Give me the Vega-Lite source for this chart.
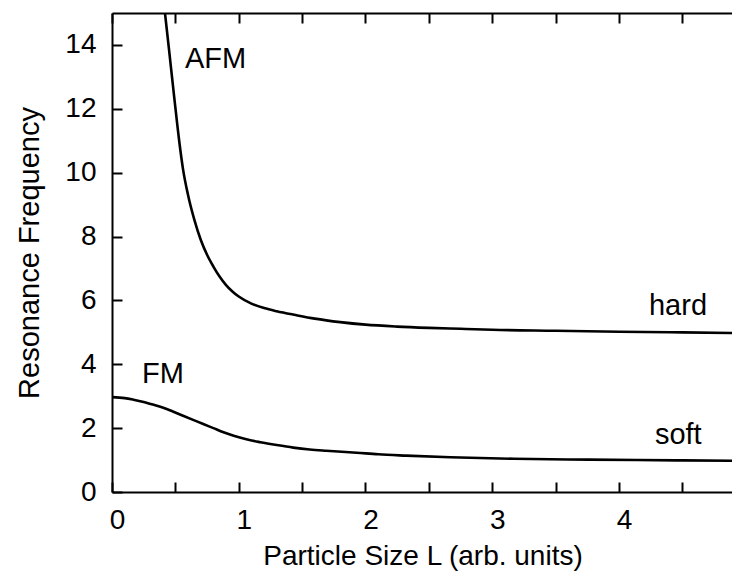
{
  "$schema": "https://vega.github.io/schema/vega-lite/v6.json",
  "autosize": {"type": "none"},
  "padding": {"left": 112, "top": 13, "right": 0, "bottom": 80},
  "width": 621,
  "height": 479,
  "background": "white",
  "config": {
    "view": {"stroke": null},
    "font": "Liberation Sans",
    "axis": {
      "grid": false,
      "domainColor": "black",
      "domainWidth": 2,
      "tickColor": "black",
      "tickWidth": 2,
      "labelColor": "black",
      "titleColor": "black",
      "labelFont": "Liberation Sans",
      "titleFont": "Liberation Sans",
      "titleFontWeight": "normal"
    }
  },
  "datasets": {
    "curves": [
      {"curve": "AFM", "L": 0.418, "f": 15.0},
      {"curve": "AFM", "L": 0.45, "f": 13.85},
      {"curve": "AFM", "L": 0.49, "f": 12.4},
      {"curve": "AFM", "L": 0.53, "f": 11.0},
      {"curve": "AFM", "L": 0.56, "f": 10.12},
      {"curve": "AFM", "L": 0.6, "f": 9.3},
      {"curve": "AFM", "L": 0.65, "f": 8.52},
      {"curve": "AFM", "L": 0.7, "f": 7.9},
      {"curve": "AFM", "L": 0.75, "f": 7.43},
      {"curve": "AFM", "L": 0.8, "f": 7.06},
      {"curve": "AFM", "L": 0.85, "f": 6.74},
      {"curve": "AFM", "L": 0.9, "f": 6.48},
      {"curve": "AFM", "L": 0.95, "f": 6.28},
      {"curve": "AFM", "L": 1.0, "f": 6.12},
      {"curve": "AFM", "L": 1.1, "f": 5.9},
      {"curve": "AFM", "L": 1.2, "f": 5.76},
      {"curve": "AFM", "L": 1.3, "f": 5.66},
      {"curve": "AFM", "L": 1.45, "f": 5.54},
      {"curve": "AFM", "L": 1.6, "f": 5.43},
      {"curve": "AFM", "L": 1.8, "f": 5.32},
      {"curve": "AFM", "L": 2.0, "f": 5.24},
      {"curve": "AFM", "L": 2.25, "f": 5.18},
      {"curve": "AFM", "L": 2.5, "f": 5.14},
      {"curve": "AFM", "L": 2.75, "f": 5.11},
      {"curve": "AFM", "L": 3.0, "f": 5.08},
      {"curve": "AFM", "L": 3.5, "f": 5.05},
      {"curve": "AFM", "L": 4.0, "f": 5.02},
      {"curve": "AFM", "L": 4.5, "f": 5.0},
      {"curve": "AFM", "L": 4.9, "f": 4.98},
      {"curve": "FM", "L": 0.0, "f": 2.97},
      {"curve": "FM", "L": 0.1, "f": 2.94},
      {"curve": "FM", "L": 0.17, "f": 2.89},
      {"curve": "FM", "L": 0.25, "f": 2.82},
      {"curve": "FM", "L": 0.33, "f": 2.73},
      {"curve": "FM", "L": 0.41, "f": 2.63},
      {"curve": "FM", "L": 0.48, "f": 2.52},
      {"curve": "FM", "L": 0.56, "f": 2.39},
      {"curve": "FM", "L": 0.64, "f": 2.26},
      {"curve": "FM", "L": 0.72, "f": 2.13},
      {"curve": "FM", "L": 0.8, "f": 2.0},
      {"curve": "FM", "L": 0.88, "f": 1.87},
      {"curve": "FM", "L": 0.96, "f": 1.76},
      {"curve": "FM", "L": 1.06, "f": 1.65},
      {"curve": "FM", "L": 1.17, "f": 1.56},
      {"curve": "FM", "L": 1.3, "f": 1.47},
      {"curve": "FM", "L": 1.43, "f": 1.39},
      {"curve": "FM", "L": 1.56, "f": 1.33},
      {"curve": "FM", "L": 1.69, "f": 1.29},
      {"curve": "FM", "L": 1.93, "f": 1.23},
      {"curve": "FM", "L": 2.1, "f": 1.18},
      {"curve": "FM", "L": 2.32, "f": 1.14},
      {"curve": "FM", "L": 2.67, "f": 1.09},
      {"curve": "FM", "L": 3.17, "f": 1.04},
      {"curve": "FM", "L": 3.6, "f": 1.02},
      {"curve": "FM", "L": 4.14, "f": 1.0},
      {"curve": "FM", "L": 4.5, "f": 0.99},
      {"curve": "FM", "L": 4.9, "f": 0.98}
    ],
    "labels": [
      {"text": "AFM", "L": 0.576, "f": 13.29},
      {"text": "FM", "L": 0.237, "f": 3.42},
      {"text": "hard", "L": 4.237, "f": 5.55},
      {"text": "soft", "L": 4.284, "f": 1.5}
    ]
  },
  "layer": [
    {
      "data": {"name": "curves"},
      "mark": {"type": "line", "color": "black", "strokeWidth": 2.6, "interpolate": "monotone", "clip": true},
      "encoding": {
        "x": {
          "field": "L", "type": "quantitative",
          "scale": {"domain": [0, 4.9], "nice": false, "zero": false},
          "axis": {
            "orient": "bottom",
            "title": "Particle Size L (arb. units)",
            "titleFontSize": 28,
            "titlePadding": 8,
            "values": [0, 0.5, 1, 1.5, 2, 2.5, 3, 3.5, 4, 4.5],
            "labelExpr": "datum.value % 1 === 0 ? '' + datum.value : ''",
            "labelFontSize": 28,
            "labelPadding": 24,
            "labelOffset": 5,
            "tickSize": -10,
            "labelFlush": false,
            "labelOverlap": false
          }
        },
        "y": {
          "field": "f", "type": "quantitative",
          "scale": {"domain": [0, 15], "nice": false},
          "axis": {
            "title": "Resonance Frequency",
            "titleFontSize": 29,
            "titlePadding": 20,
            "values": [0, 2, 4, 6, 8, 10, 12, 14],
            "labelFontSize": 28,
            "labelPadding": 26,
            "tickSize": -10,
            "labelFlush": false,
            "labelOverlap": false
          }
        },
        "detail": {"field": "curve"}
      }
    },
    {
      "data": {"name": "curves"},
      "mark": {"type": "rule", "opacity": 0},
      "encoding": {
        "x": {
          "field": "L", "type": "quantitative",
          "axis": {
            "orient": "top",
            "title": null,
            "values": [0, 0.5, 1, 1.5, 2, 2.5, 3, 3.5, 4, 4.5],
            "labels": false,
            "tickSize": -10
          }
        }
      }
    },
    {
      "data": {"name": "labels"},
      "mark": {"type": "text", "align": "left", "baseline": "alphabetic", "fontSize": 29, "font": "Liberation Sans", "color": "black"},
      "encoding": {
        "x": {"field": "L", "type": "quantitative", "axis": null},
        "y": {"field": "f", "type": "quantitative"},
        "text": {"field": "text"}
      }
    }
  ],
  "resolve": {"axis": {"x": "independent"}}
}
